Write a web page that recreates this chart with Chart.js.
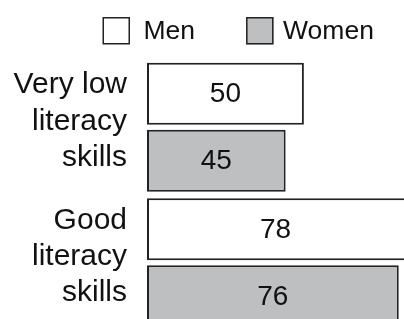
<!DOCTYPE html>
<html>
<head>
<meta charset="utf-8">
<script src="https://cdn.jsdelivr.net/npm/chart.js@4/dist/chart.umd.min.js"></script>
<style>
  html, body { margin: 0; padding: 0; background: #fff; overflow: hidden; }
  #wrap { width: 404px; height: 319px; overflow: hidden; position: relative; }
  #c { position: absolute; left: 0; top: 0; }
</style>
</head>
<body>
<div id="wrap"><canvas id="c" width="475" height="335"></canvas></div>
<script>
const categories = [["Very low", "literacy", "skills"], ["Good", "literacy", "skills"]];
const seriesNames = ["Men", "Women"];
const menValues = [50, 78];
const womenValues = [45, 76];

const FONT = "'Liberation Sans', Arial, Helvetica, sans-serif";
const AXIS_MIN = 7;
const AXIS_MAX = 96.9;

const valueLabels = {
  id: 'valueLabels',
  afterDatasetsDraw(chart) {
    const ctx = chart.ctx;
    ctx.save();
    ctx.font = '28px ' + FONT;
    ctx.fillStyle = '#111';
    ctx.textAlign = 'center';
    ctx.textBaseline = 'middle';
    const visibleRight = 404;
    chart.data.datasets.forEach((ds, di) => {
      const meta = chart.getDatasetMeta(di);
      meta.data.forEach((bar, i) => {
        const left = bar.base;
        const right = Math.min(bar.x, visibleRight);
        ctx.fillText(String(ds.data[i]), (left + right) / 2, bar.y + 1);
      });
    });
    ctx.restore();
  }
};

const customLegend = {
  id: 'customLegend',
  afterDraw(chart) {
    const ctx = chart.ctx;
    ctx.save();
    ctx.font = '26.5px ' + FONT;
    ctx.textBaseline = 'middle';
    ctx.textAlign = 'left';
    let x = 102.5;
    const top = 17, size = 27.5;
    const textGaps = [13.5, 9.5];
    chart.data.datasets.forEach((ds, i) => {
      ctx.fillStyle = ds.backgroundColor;
      ctx.fillRect(x, top, size, size);
      ctx.strokeStyle = ds.borderColor;
      ctx.lineWidth = 1.5;
      ctx.strokeRect(x + 0.75, top + 0.75, size - 1.5, size - 1.5);
      x += size + textGaps[i];
      ctx.fillStyle = '#111';
      ctx.fillText(ds.label, x, top + size / 2 + 1);
      x += ctx.measureText(ds.label).width + 51;
    });
    ctx.restore();
  }
};

new Chart(document.getElementById('c'), {
  type: 'bar',
  data: {
    labels: categories,
    datasets: [
      { label: seriesNames[0], data: menValues, base: AXIS_MIN, backgroundColor: '#ffffff', borderColor: '#222222', borderWidth: 2, borderSkipped: false },
      { label: seriesNames[1], data: womenValues, base: AXIS_MIN, backgroundColor: '#bebfc1', borderColor: '#222222', borderWidth: 2, borderSkipped: false }
    ]
  },
  options: {
    indexAxis: 'y',
    responsive: false,
    maintainAspectRatio: false,
    animation: false,
    devicePixelRatio: 1,
    barPercentage: 0.925,
    categoryPercentage: 0.989,
    layout: { padding: { top: 59.5, bottom: 4.5, left: 0, right: 0 } },
    plugins: {
      legend: { display: false },
      tooltip: { enabled: false }
    },
    scales: {
      x: {
        type: 'linear',
        min: AXIS_MIN,
        max: AXIS_MAX,
        beginAtZero: false,
        display: false
      },
      y: {
        display: true,
        border: { display: false },
        grid: { display: false, drawTicks: false },
        ticks: {
          padding: 20,
          labelOffset: -6,
          color: '#111',
          font: { family: FONT, size: 30, lineHeight: 1.21 }
        },
        afterFit(scale) {
          scale.width = 147;
          scale.paddingTop = 0;
          scale.paddingBottom = 0;
        }
      }
    }
  },
  plugins: [valueLabels, customLegend]
});
</script>
</body>
</html>
